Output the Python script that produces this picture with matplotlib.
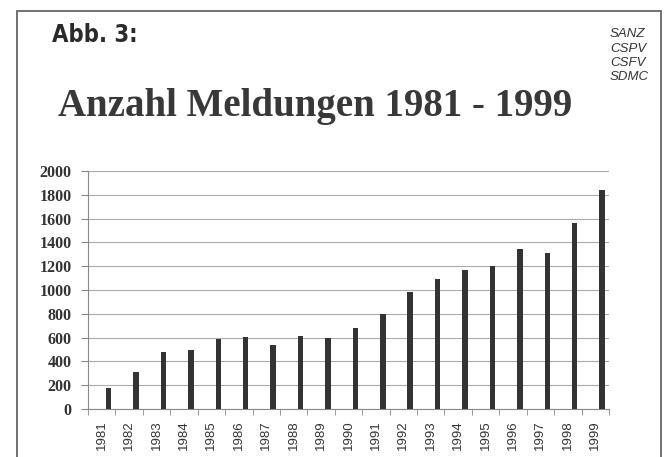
import matplotlib
matplotlib.use('Agg')
import matplotlib.pyplot as plt
from matplotlib.patches import Rectangle
import numpy as np

# ---------- Data ----------
years = [str(y) for y in range(1981, 2000)]
meldungen = [176, 313, 478, 492, 587, 604, 539, 617, 596, 680,
             802, 982, 1096, 1169, 1205, 1342, 1309, 1560, 1837]
y_ticks = list(range(0, 2001, 200))
sources = ['SANZ', 'CSPV', 'CSFV', 'SDMC']

W, H = 670, 457
fig = plt.figure(figsize=(W / 100, H / 100), dpi=100)
fig.patch.set_facecolor('white')

# outer frame
fig.patches.append(Rectangle((17 / W, -0.05), (661 - 17) / W, 1.05 - 11 / H,
                             transform=fig.transFigure, fill=False,
                             edgecolor='#666666', linewidth=1.3))

# header texts
fig.text(52 / W, 1 - 42 / H, 'Abb. 3:', fontsize=17, fontweight='bold',
         family='DejaVu Sans', fontstretch='condensed', color='#2a2a2a',
         ha='left', va='baseline')
for i, s in enumerate(sources):
    fig.text(610 / W, 1 - (37 + i * 14.5) / H, s, fontsize=9.5, style='italic',
             family='Liberation Sans', color='#333333', ha='left', va='baseline')
fig.text(58 / W, 1 - 116 / H, 'Anzahl Meldungen 1981 - 1999', fontsize=28,
         fontweight='bold', family='Liberation Serif', color='#383838',
         ha='left', va='baseline')

# ---------- Plot ----------
ax = fig.add_axes([88 / W, 1 - 409 / H, (609 - 88) / W, (409 - 171) / H])
x = np.arange(len(years))
ax.bar(x + 0.25, meldungen, width=0.2, color='#333333', zorder=3)

ax.set_xlim(-0.5, len(years) - 0.5)
ax.set_ylim(0, 2000)
ax.set_yticks(y_ticks)
ax.set_yticklabels([str(v) for v in y_ticks], family='Liberation Serif',
                   fontweight='bold', fontsize=11.5, color='#333333')
ax.set_xticks(x)
ax.set_xticklabels(years, rotation=90, family='Liberation Sans', fontsize=9.5,
                   color='#333333')
ax.set_xticks(np.arange(-0.5, len(years)), minor=True)
ax.tick_params(axis='x', which='major', length=0, pad=8)
ax.tick_params(axis='x', which='minor', length=4, color='#888888')
ax.tick_params(axis='y', length=5, color='#888888', pad=7)

ax.grid(axis='y', color='#aaaaaa', linewidth=0.8, zorder=0)
for side in ['top', 'right']:
    ax.spines[side].set_visible(False)
ax.spines['left'].set_color('#888888')
ax.spines['bottom'].set_color('#888888')

fig.savefig('out.png', dpi=100)
